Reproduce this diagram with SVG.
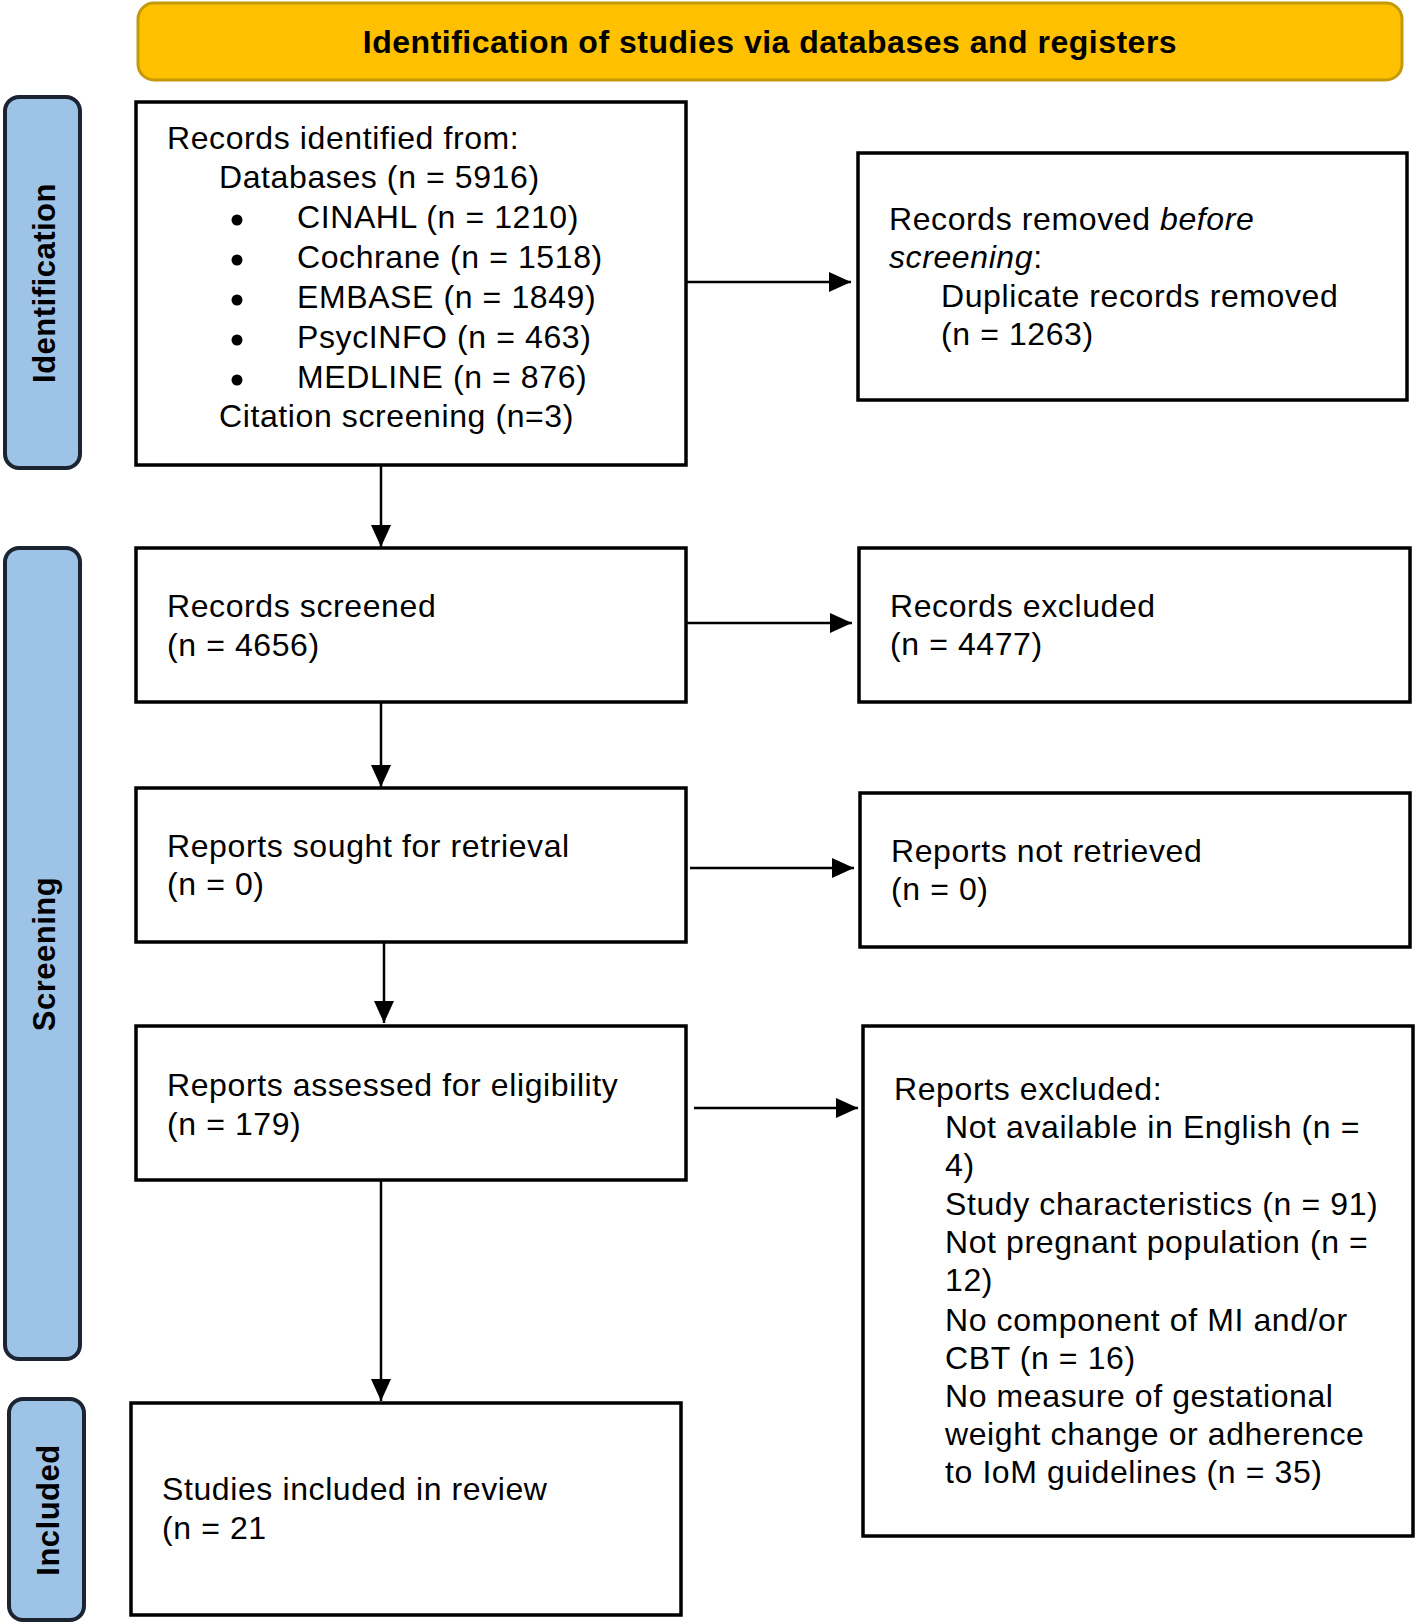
<svg xmlns="http://www.w3.org/2000/svg" width="1416" height="1622" viewBox="0 0 1416 1622">
<style>
.bg{fill:#ffffff}
.hdr{fill:#FFC000;stroke:#C49A0A;stroke-width:3}
.phase{fill:#9DC3E6;stroke:#1B2430;stroke-width:4}
.box{fill:#ffffff;stroke:#000000;stroke-width:3.5}
.t{font-family:"Liberation Sans",Arial,Helvetica,sans-serif;font-size:32px;letter-spacing:0.6px;fill:#000}
.ht{font-family:"Liberation Sans",Arial,Helvetica,sans-serif;font-size:32px;font-weight:bold;letter-spacing:0.5px;fill:#000}
.pt{font-family:"Liberation Sans",Arial,Helvetica,sans-serif;font-size:31px;font-weight:bold;letter-spacing:0.5px;fill:#000}
.it{font-style:italic}
.ln{stroke:#000;stroke-width:2.5;fill:none;marker-end:url(#ah)}
</style>
<defs>
<marker id="ah" markerUnits="userSpaceOnUse" markerWidth="22" markerHeight="20" refX="22" refY="10" orient="auto">
<path d="M0,0 L22,10 L0,20 z" fill="#000"/>
</marker>
</defs>
<rect class="bg" x="0" y="0" width="1416" height="1622"/>

<g id="header">
<rect class="hdr" x="138" y="3" width="1264" height="77" rx="16"/>
<text class="ht" x="770" y="53" text-anchor="middle">Identification of studies via databases and registers</text>
</g>

<g id="phase-identification">
<rect class="phase" x="5" y="97" width="75" height="371" rx="14"/>
<text class="pt" transform="translate(55,283) rotate(-90)" text-anchor="middle">Identification</text>
</g>
<g id="phase-screening">
<rect class="phase" x="5" y="548" width="75" height="811" rx="14"/>
<text class="pt" transform="translate(55,954) rotate(-90)" text-anchor="middle">Screening</text>
</g>
<g id="phase-included">
<rect class="phase" x="9" y="1399" width="75" height="221" rx="14"/>
<text class="pt" transform="translate(59,1510) rotate(-90)" text-anchor="middle">Included</text>
</g>

<g id="records-identified">
<rect class="box" x="136" y="102" width="550" height="363"/>
<text class="t" x="167" y="149">Records identified from:</text>
<text class="t" x="219" y="188">Databases (n = 5916)</text>
<circle cx="237" cy="220" r="5.5"/>
<text class="t" x="297" y="228">CINAHL (n = 1210)</text>
<circle cx="237" cy="260" r="5.5"/>
<text class="t" x="297" y="268">Cochrane (n = 1518)</text>
<circle cx="237" cy="300" r="5.5"/>
<text class="t" x="297" y="308">EMBASE (n = 1849)</text>
<circle cx="237" cy="340" r="5.5"/>
<text class="t" x="297" y="348">PsycINFO (n = 463)</text>
<circle cx="237" cy="380" r="5.5"/>
<text class="t" x="297" y="388">MEDLINE (n = 876)</text>
<text class="t" x="219" y="427">Citation screening (n=3)</text>
</g>

<g id="records-removed">
<rect class="box" x="858" y="153" width="549" height="247"/>
<text class="t" x="889" y="230">Records removed <tspan class="it">before</tspan></text>
<text class="t" x="889" y="268"><tspan class="it">screening</tspan>:</text>
<text class="t" x="941" y="307">Duplicate records removed</text>
<text class="t" x="941" y="345">(n = 1263)</text>
</g>

<g id="records-screened">
<rect class="box" x="136" y="548" width="550" height="154"/>
<text class="t" x="167" y="617">Records screened</text>
<text class="t" x="167" y="656">(n = 4656)</text>
</g>

<g id="records-excluded">
<rect class="box" x="859" y="548" width="551" height="154"/>
<text class="t" x="890" y="617">Records excluded</text>
<text class="t" x="890" y="655">(n = 4477)</text>
</g>

<g id="reports-sought">
<rect class="box" x="136" y="788" width="550" height="154"/>
<text class="t" x="167" y="857">Reports sought for retrieval</text>
<text class="t" x="167" y="895">(n = 0)</text>
</g>

<g id="reports-not-retrieved">
<rect class="box" x="860" y="793" width="550" height="154"/>
<text class="t" x="891" y="862">Reports not retrieved</text>
<text class="t" x="891" y="900">(n = 0)</text>
</g>

<g id="reports-assessed">
<rect class="box" x="136" y="1026" width="550" height="154"/>
<text class="t" x="167" y="1096">Reports assessed for eligibility</text>
<text class="t" x="167" y="1135">(n = 179)</text>
</g>

<g id="reports-excluded">
<rect class="box" x="863" y="1026" width="550" height="510"/>
<text class="t" x="894" y="1100">Reports excluded:</text>
<text class="t" x="945" y="1138">Not available in English (n =</text>
<text class="t" x="945" y="1176">4)</text>
<text class="t" x="945" y="1215">Study characteristics (n = 91)</text>
<text class="t" x="945" y="1253">Not pregnant population (n =</text>
<text class="t" x="945" y="1291">12)</text>
<text class="t" x="945" y="1331">No component of MI and/or</text>
<text class="t" x="945" y="1369">CBT (n = 16)</text>
<text class="t" x="945" y="1407">No measure of gestational</text>
<text class="t" x="945" y="1445">weight change or adherence</text>
<text class="t" x="945" y="1483">to IoM guidelines (n = 35)</text>
</g>

<g id="studies-included">
<rect class="box" x="131" y="1403" width="550" height="212"/>
<text class="t" x="162" y="1500">Studies included in review</text>
<text class="t" x="162" y="1539">(n = 21</text>
</g>

<g id="connectors">
<line class="ln" x1="381" y1="465" x2="381" y2="547"/>
<line class="ln" x1="381" y1="702" x2="381" y2="787"/>
<line class="ln" x1="384" y1="942" x2="384" y2="1023"/>
<line class="ln" x1="381" y1="1180" x2="381" y2="1401"/>
<line class="ln" x1="686" y1="282" x2="851" y2="282"/>
<line class="ln" x1="686" y1="623" x2="852" y2="623"/>
<line class="ln" x1="690" y1="868" x2="854" y2="868"/>
<line class="ln" x1="694" y1="1108" x2="858" y2="1108"/>
</g>
</svg>
